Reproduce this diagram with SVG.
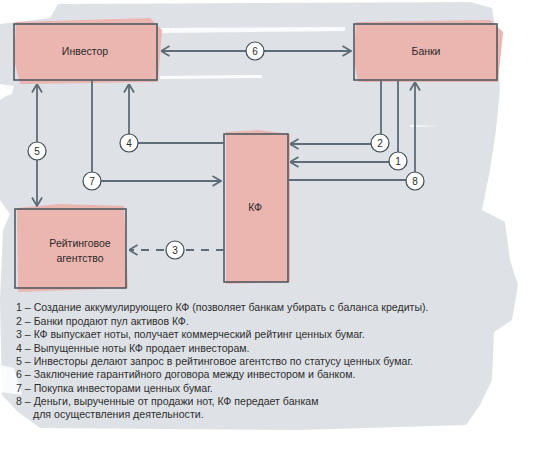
<svg xmlns="http://www.w3.org/2000/svg" width="536" height="454" viewBox="0 0 536 454">
<defs>
<style>
.bg{fill:#dee2e7}
.streak{fill:#ffffff;opacity:0.85}
.fill{fill:#ebb5b0}
.box{fill:none;stroke:#4f5a62;stroke-width:1.6}
.lbl{font-family:"Liberation Sans",Arial,sans-serif;font-size:10.5px;fill:#2b2b2b;text-anchor:middle}
.con{fill:none;stroke:#5d6c76;stroke-width:1.8}
.dash{stroke-dasharray:8 7}
.num circle{fill:#ffffff;stroke:#3f4a52;stroke-width:1.2}
.num text{font-family:"Liberation Sans",Arial,sans-serif;font-size:10px;fill:#2b2b2b;text-anchor:middle}
.leg{font-family:"Liberation Sans",Arial,sans-serif;font-size:10.6px;fill:#2e2e2e}
</style>
<marker id="ah" viewBox="0 0 10 12" refX="9.5" refY="6" markerWidth="10" markerHeight="12" markerUnits="userSpaceOnUse" orient="auto-start-reverse">
<path d="M1,1 L9.5,6 L1,11" fill="none" stroke="#5d6c76" stroke-width="1.8"/>
</marker>
</defs>
<rect width="536" height="454" fill="#ffffff"/>
<g id="background">
<path class="bg" d="M58,4 L470,2 L492,8 L497,40 L500,90 L496,130 L490,170 L486,190 L482,210 L505,222 L510,260 L518,285 L512,320 L494,332 L492,380 L480,405 L466,425 L300,430 L40,428 L18,412 L2,395 L0,300 L3,230 L10,214 L0,200 L0,100 L12,92 L0,84 L0,24 L50,18 Z"/>
<path class="streak" d="M160,28 L345,27 L345,31 L160,33 Z"/>
<path class="streak" d="M160,76 L262,75 L262,78 L160,79 Z"/>
<path class="streak" d="M0,84 L14,86 L12,94 L0,98 Z"/>
<path class="streak" d="M410,125 L440,126 L410,127 Z"/>
<path class="streak" d="M0,365 L14,368 L22,395 L0,392 Z"/>
</g>
<g id="investor">
<path class="fill" d="M16,22 L150,18 L162,30 L158,82 L20,84 L14,60 Z"/>
<rect class="box" x="14" y="24" width="143" height="56"/>
<text class="lbl" x="85" y="55">Инвестор</text>
</g>
<g id="banks">
<path class="fill" d="M356,22 L490,20 L503,32 L498,82 L358,82 L354,60 Z"/>
<rect class="box" x="354" y="24" width="143" height="56"/>
<text class="lbl" x="426" y="55">Банки</text>
</g>
<g id="kf">
<path class="fill" d="M226,132 L258,130 L290,134 L290,282 L226,284 Z"/>
<rect class="box" x="224" y="134" width="64" height="148"/>
<text class="lbl" x="255" y="211">КФ</text>
</g>
<g id="rating">
<path class="fill" d="M17,208 L60,204 L124,206 L128,288 L18,292 Z"/>
<rect class="box" x="15" y="209" width="111" height="79"/>
<text class="lbl" x="80" y="247">Рейтинговое</text>
<text class="lbl" x="80" y="262">агентство</text>
</g>
<g id="connectors">
<line class="con" x1="161" y1="51" x2="351" y2="51" marker-start="url(#ah)" marker-end="url(#ah)"/>
<line class="con" x1="37" y1="84" x2="37" y2="206" marker-start="url(#ah)" marker-end="url(#ah)"/>
<path class="con" d="M92,80 V181 H221" marker-end="url(#ah)"/>
<path class="con" d="M224,143 H129 V84" marker-end="url(#ah)"/>
<path class="con" d="M381,80 V144 H290" marker-end="url(#ah)"/>
<path class="con" d="M398,80 V162 H290" marker-end="url(#ah)"/>
<path class="con" d="M288,180 H415 V82" marker-end="url(#ah)"/>
<path class="con dash" d="M224,250 H129" marker-end="url(#ah)"/>
<g class="num">
<circle cx="255" cy="51" r="9"/><text x="255" y="55">6</text>
<circle cx="37" cy="151" r="9"/><text x="37" y="155">5</text>
<circle cx="92" cy="181" r="9"/><text x="92" y="185">7</text>
<circle cx="129" cy="143" r="9"/><text x="129" y="147">4</text>
<circle cx="380" cy="143" r="9"/><text x="380" y="147">2</text>
<circle cx="398" cy="161" r="9"/><text x="398" y="165">1</text>
<circle cx="415" cy="181" r="9"/><text x="415" y="185">8</text>
<circle cx="175" cy="250" r="9"/><text x="175" y="254">3</text>
</g>
</g>
<g id="legend" class="leg">
<text x="16" y="311">1 – Создание аккумулирующего КФ (позволяет банкам убирать с баланса кредиты).</text>
<text x="16" y="325">2 – Банки продают пул активов КФ.</text>
<text x="16" y="338">3 – КФ выпускает ноты, получает коммерческий рейтинг ценных бумаг.</text>
<text x="16" y="352">4 – Выпущенные ноты КФ продает инвесторам.</text>
<text x="16" y="365">5 – Инвесторы делают запрос в рейтинговое агентство по статусу ценных бумаг.</text>
<text x="16" y="378">6 – Заключение гарантийного договора между инвестором и банком.</text>
<text x="16" y="392">7 – Покупка инвесторами ценных бумаг.</text>
<text x="16" y="405">8 – Деньги, вырученные от продажи нот, КФ передает банкам</text>
<text x="33" y="418">для осуществления деятельности.</text>
</g>
</svg>
